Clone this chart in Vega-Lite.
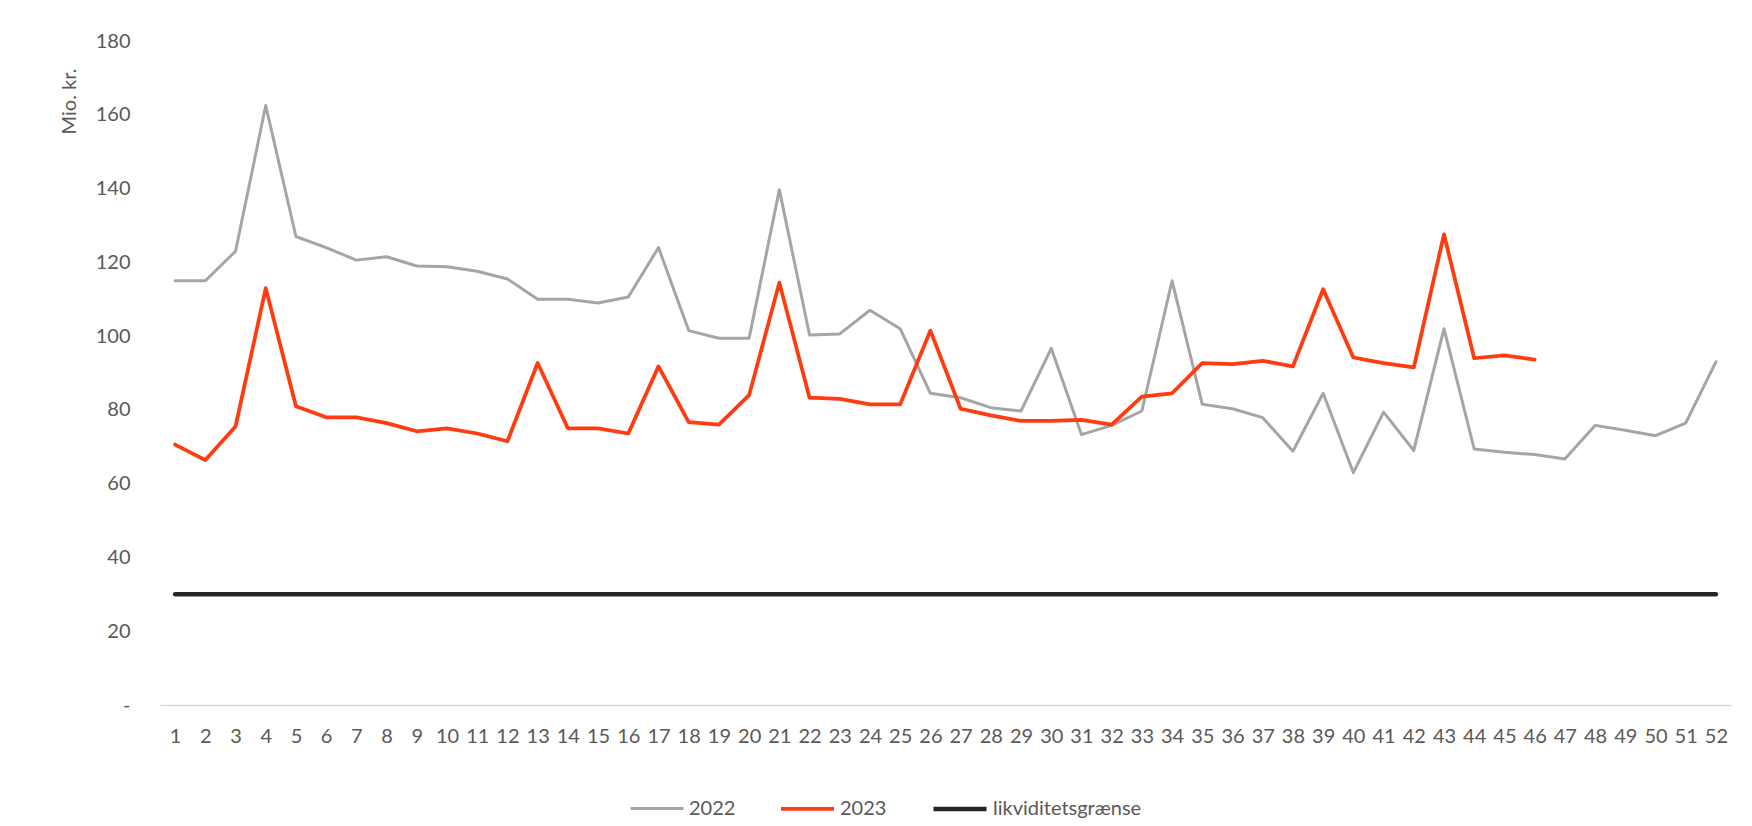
{
  "$schema": "https://vega.github.io/schema/vega-lite/v6.json",
  "width": 1571,
  "height": 664,
  "autosize": {"type": "none"},
  "padding": {"left": 160, "top": 41, "right": 21, "bottom": 121},
  "background": "white",
  "config": {"view": {"stroke": null}, "font": "Lato"},
  "data": {
    "values": [
      {"uge": 1, "2022": 115, "2023": 70.6, "likviditetsgrænse": 30},
      {"uge": 2, "2022": 115, "2023": 66.4, "likviditetsgrænse": 30},
      {"uge": 3, "2022": 123, "2023": 75.5, "likviditetsgrænse": 30},
      {"uge": 4, "2022": 162.5, "2023": 113, "likviditetsgrænse": 30},
      {"uge": 5, "2022": 127, "2023": 81, "likviditetsgrænse": 30},
      {"uge": 6, "2022": 124, "2023": 78, "likviditetsgrænse": 30},
      {"uge": 7, "2022": 120.6, "2023": 78, "likviditetsgrænse": 30},
      {"uge": 8, "2022": 121.5, "2023": 76.4, "likviditetsgrænse": 30},
      {"uge": 9, "2022": 119, "2023": 74.2, "likviditetsgrænse": 30},
      {"uge": 10, "2022": 118.8, "2023": 75, "likviditetsgrænse": 30},
      {"uge": 11, "2022": 117.6, "2023": 73.6, "likviditetsgrænse": 30},
      {"uge": 12, "2022": 115.5, "2023": 71.5, "likviditetsgrænse": 30},
      {"uge": 13, "2022": 110, "2023": 92.7, "likviditetsgrænse": 30},
      {"uge": 14, "2022": 110, "2023": 75, "likviditetsgrænse": 30},
      {"uge": 15, "2022": 109, "2023": 75, "likviditetsgrænse": 30},
      {"uge": 16, "2022": 110.6, "2023": 73.6, "likviditetsgrænse": 30},
      {"uge": 17, "2022": 124, "2023": 91.8, "likviditetsgrænse": 30},
      {"uge": 18, "2022": 101.5, "2023": 76.7, "likviditetsgrænse": 30},
      {"uge": 19, "2022": 99.4, "2023": 76, "likviditetsgrænse": 30},
      {"uge": 20, "2022": 99.4, "2023": 84, "likviditetsgrænse": 30},
      {"uge": 21, "2022": 139.7, "2023": 114.5, "likviditetsgrænse": 30},
      {"uge": 22, "2022": 100.3, "2023": 83.3, "likviditetsgrænse": 30},
      {"uge": 23, "2022": 100.6, "2023": 83, "likviditetsgrænse": 30},
      {"uge": 24, "2022": 107, "2023": 81.5, "likviditetsgrænse": 30},
      {"uge": 25, "2022": 102, "2023": 81.5, "likviditetsgrænse": 30},
      {"uge": 26, "2022": 84.5, "2023": 101.5, "likviditetsgrænse": 30},
      {"uge": 27, "2022": 83.3, "2023": 80.3, "likviditetsgrænse": 30},
      {"uge": 28, "2022": 80.6, "2023": 78.5, "likviditetsgrænse": 30},
      {"uge": 29, "2022": 79.7, "2023": 77, "likviditetsgrænse": 30},
      {"uge": 30, "2022": 96.7, "2023": 77, "likviditetsgrænse": 30},
      {"uge": 31, "2022": 73.3, "2023": 77.3, "likviditetsgrænse": 30},
      {"uge": 32, "2022": 75.8, "2023": 76, "likviditetsgrænse": 30},
      {"uge": 33, "2022": 79.7, "2023": 83.6, "likviditetsgrænse": 30},
      {"uge": 34, "2022": 115, "2023": 84.5, "likviditetsgrænse": 30},
      {"uge": 35, "2022": 81.5, "2023": 92.7, "likviditetsgrænse": 30},
      {"uge": 36, "2022": 80.3, "2023": 92.4, "likviditetsgrænse": 30},
      {"uge": 37, "2022": 77.9, "2023": 93.3, "likviditetsgrænse": 30},
      {"uge": 38, "2022": 68.8, "2023": 91.8, "likviditetsgrænse": 30},
      {"uge": 39, "2022": 84.5, "2023": 112.7, "likviditetsgrænse": 30},
      {"uge": 40, "2022": 63, "2023": 94.2, "likviditetsgrænse": 30},
      {"uge": 41, "2022": 79.4, "2023": 92.7, "likviditetsgrænse": 30},
      {"uge": 42, "2022": 69, "2023": 91.5, "likviditetsgrænse": 30},
      {"uge": 43, "2022": 102, "2023": 127.6, "likviditetsgrænse": 30},
      {"uge": 44, "2022": 69.4, "2023": 94, "likviditetsgrænse": 30},
      {"uge": 45, "2022": 68.5, "2023": 94.8, "likviditetsgrænse": 30},
      {"uge": 46, "2022": 67.9, "2023": 93.6, "likviditetsgrænse": 30},
      {"uge": 47, "2022": 66.7, "2023": null, "likviditetsgrænse": 30},
      {"uge": 48, "2022": 75.8, "2023": null, "likviditetsgrænse": 30},
      {"uge": 49, "2022": 74.5, "2023": null, "likviditetsgrænse": 30},
      {"uge": 50, "2022": 73, "2023": null, "likviditetsgrænse": 30},
      {"uge": 51, "2022": 76.4, "2023": null, "likviditetsgrænse": 30},
      {"uge": 52, "2022": 93, "2023": null, "likviditetsgrænse": 30}
    ]
  },
  "transform": [
    {"fold": ["2022", "2023", "likviditetsgrænse"], "as": ["serie", "mio"]}
  ],
  "mark": {"type": "line", "strokeJoin": "round", "strokeCap": "round"},
  "encoding": {
    "x": {
      "field": "uge",
      "type": "ordinal",
      "scale": {"type": "point", "padding": 0.5},
      "axis": {
        "title": null,
        "labelAngle": 0,
        "ticks": false,
        "tickSize": 0,
        "labelPadding": 21,
        "labelFontSize": 20,
        "labelColor": "#595959",
        "domainColor": "#D9D9D9",
        "domainWidth": 1.5,
        "grid": false
      }
    },
    "y": {
      "field": "mio",
      "type": "quantitative",
      "scale": {"domain": [0, 180], "nice": false},
      "axis": {
        "values": [0, 20, 40, 60, 80, 100, 120, 140, 160, 180],
        "title": "Mio. kr.",
        "titleX": -91,
        "titleY": 60,
        "titleAngle": 270,
        "titleAlign": "center",
        "titleBaseline": "middle",
        "titleFontWeight": "normal",
        "titleFontSize": 20,
        "titleColor": "#595959",
        "labelFontSize": 20,
        "labelColor": "#595959",
        "labelPadding": 30,
        "ticks": false,
        "tickSize": 0,
        "domain": false,
        "grid": false,
        "labelExpr": "datum.value == 0 ? '-' : datum.label"
      }
    },
    "color": {
      "field": "serie",
      "type": "nominal",
      "scale": {
        "domain": ["2022", "2023", "likviditetsgrænse"],
        "range": ["#A5A5A5", "#FF3B0F", "#262626"]
      },
      "legend": {
        "title": null,
        "orient": "none",
        "legendX": 469,
        "legendY": 739,
        "direction": "horizontal",
        "symbolType": "stroke",
        "symbolSize": 2809,
        "labelFontSize": 20,
        "labelColor": "#595959",
        "labelOffset": 4,
        "labelLimit": 400,
        "columnPadding": 37
      }
    },
    "strokeWidth": {
      "field": "serie",
      "type": "nominal",
      "scale": {
        "domain": ["2022", "2023", "likviditetsgrænse"],
        "range": [3, 4.5, 5.5]
      },
      "legend": {
        "title": null,
        "orient": "none",
        "legendX": 469,
        "legendY": 739,
        "direction": "horizontal",
        "symbolType": "stroke",
        "symbolSize": 2809,
        "labelFontSize": 20,
        "labelColor": "#595959",
        "labelOffset": 4,
        "labelLimit": 400,
        "columnPadding": 37
      }
    }
  }
}
